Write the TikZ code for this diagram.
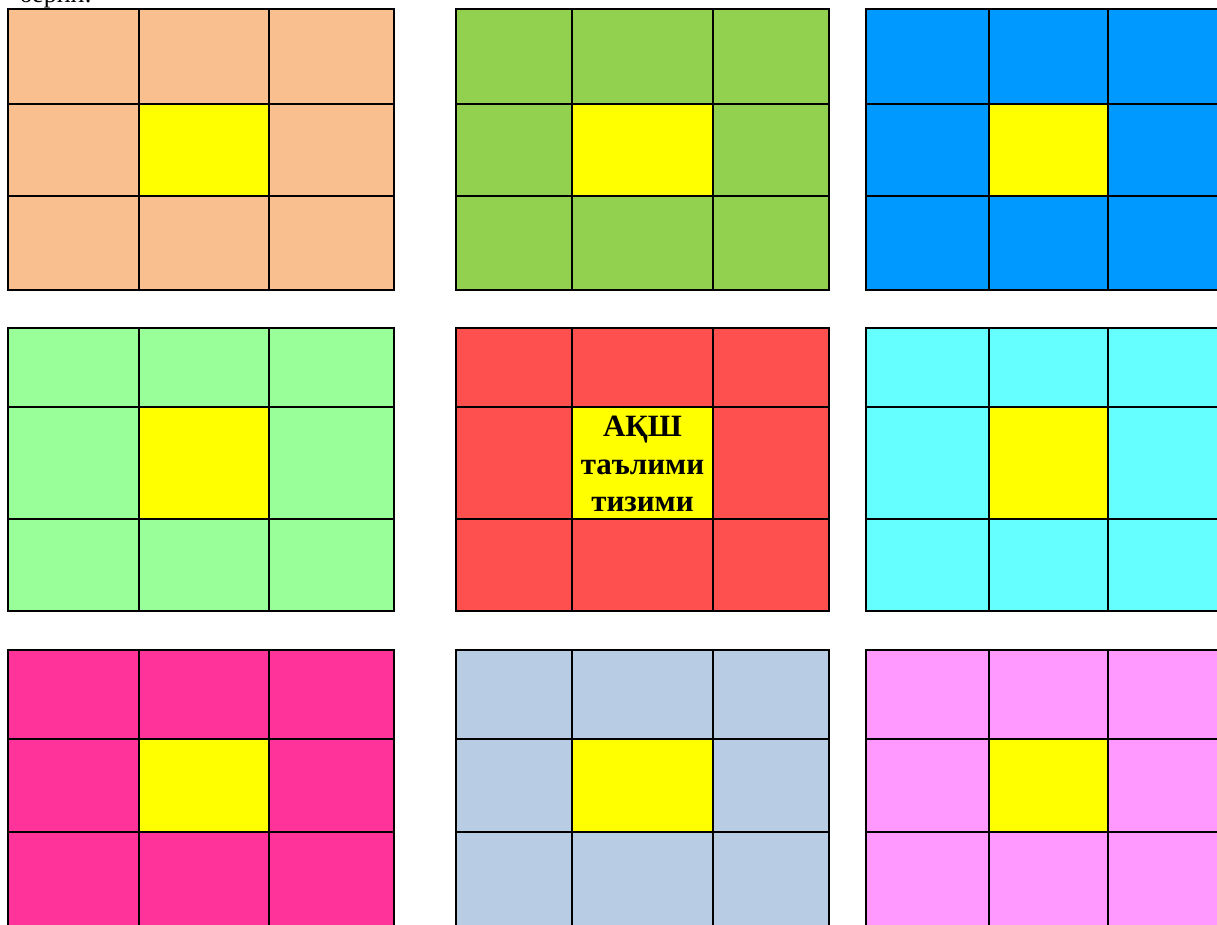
\documentclass[tikz,border=0pt]{standalone}
\usepackage{fontspec}
\setmainfont{Liberation Serif}
\usetikzlibrary{positioning}

\definecolor{c11}{HTML}{FABF8F}
\definecolor{c21}{HTML}{92D050}
\definecolor{c31}{HTML}{0099FF}
\definecolor{c12}{HTML}{99FF99}
\definecolor{c22}{HTML}{FF5050}
\definecolor{c32}{HTML}{66FFFF}
\definecolor{c13}{HTML}{FF3399}
\definecolor{c23}{HTML}{B8CCE4}
\definecolor{c33}{HTML}{FF99FF}
\definecolor{core}{HTML}{FFFF00}

\begin{document}
\begin{tikzpicture}[
    x=1pt, y=-1pt,
    gridline/.style={draw=black, line width=2pt},
    title/.style={font=\fontsize{31}{37.5}\selectfont\bfseries, align=center, inner sep=0pt},
    prompt/.style={font=\fontsize{26}{30}\selectfont, inner sep=0pt}
]
\useasboundingbox (0,0) rectangle (1217,924);

% nine 3x3 blocks, each with a yellow centre cell
\foreach \c/\xa/\xb/\xc/\xd in {1/8/139/269/394, 2/456/572/713/829, 3/866/989/1108/1232}
  \foreach \r/\ya/\yb/\yc/\yd in {1/9/104/196/290, 2/328/407/519/611, 3/650/739/832/927}
  {
    \fill[fill=c\c\r] (\xa,\ya) rectangle (\xd,\yd);
    \fill[core] (\xb,\yb) rectangle (\xc,\yc);
    \draw[gridline] (\xa,\ya) rectangle (\xd,\yd)
      (\xb,\ya) -- (\xb,\yd) (\xc,\ya) -- (\xc,\yd)
      (\xa,\yb) -- (\xd,\yb) (\xa,\yc) -- (\xd,\yc);
  }

\node[title] (caption) at (642.5,464) {АҚШ\\таълими\\тизими};
\node[prompt, anchor=base east] (intro) at (92,2) {берин:};
\end{tikzpicture}
\end{document}
